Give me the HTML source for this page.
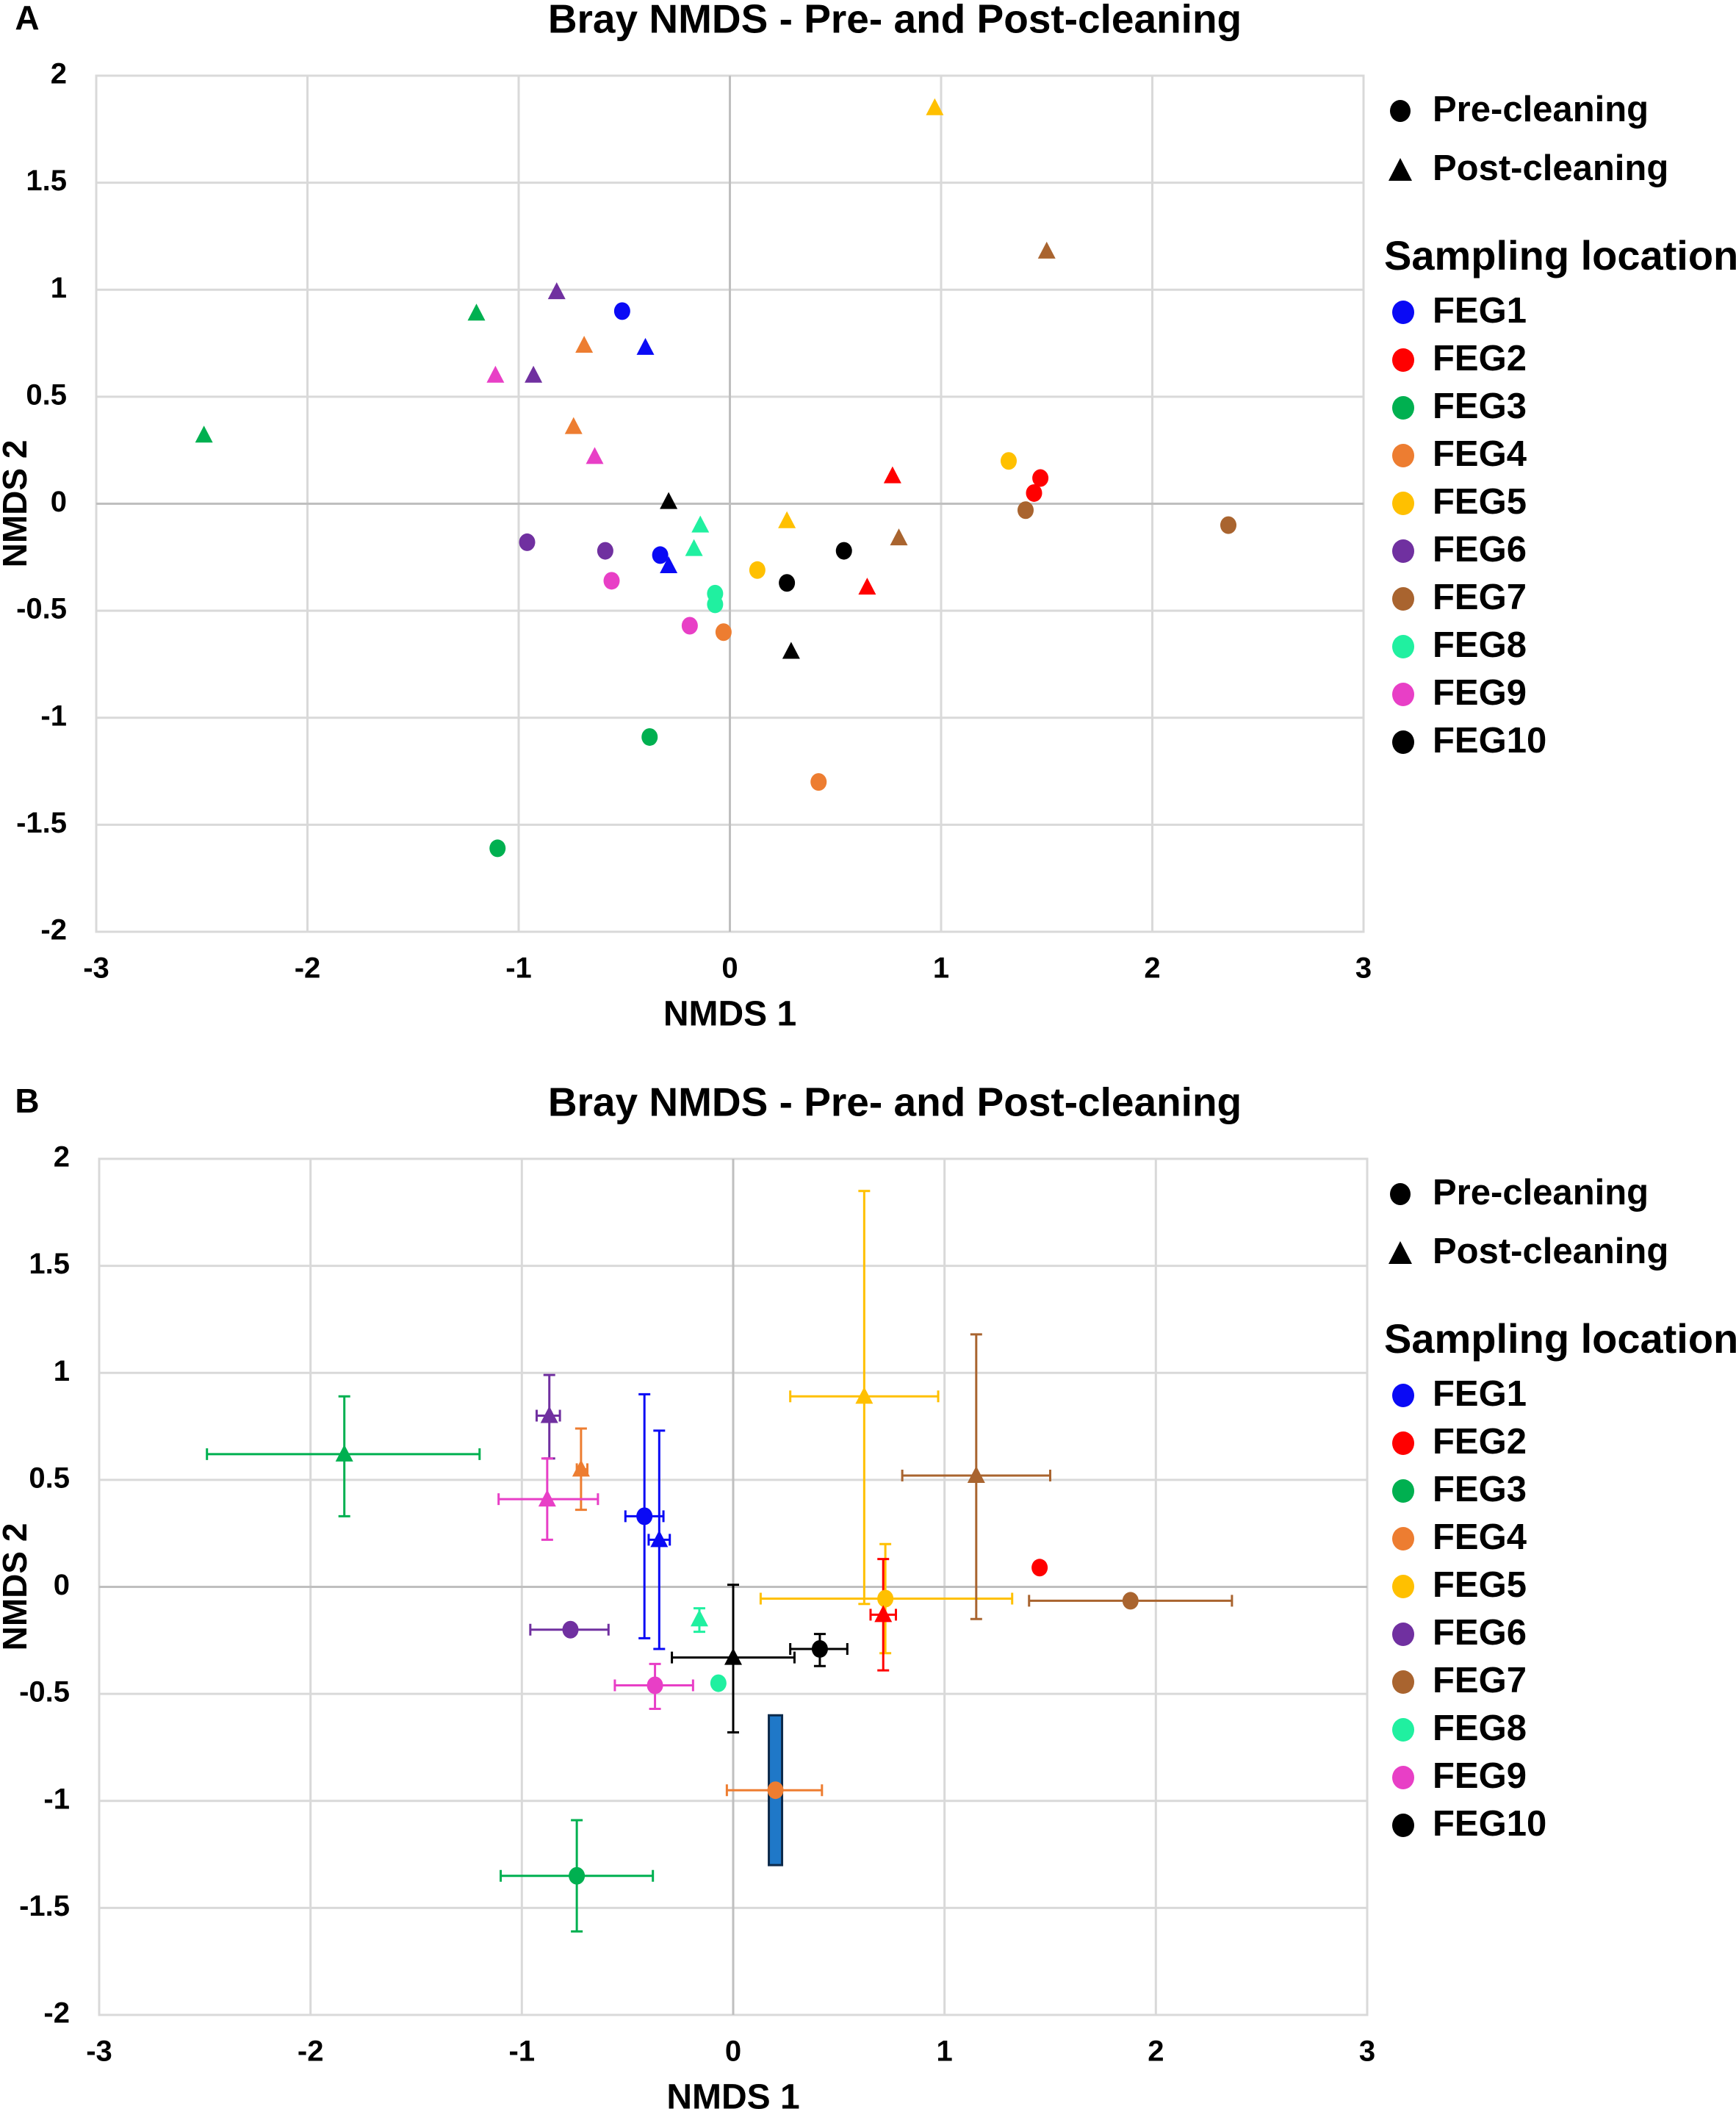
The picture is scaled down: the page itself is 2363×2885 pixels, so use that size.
<!DOCTYPE html>
<html><head><meta charset="utf-8"><style>
html,body{margin:0;padding:0;background:#fff;}
svg{display:block;font-family:"Liberation Sans",Arial,sans-serif;}
</style></head><body>
<svg id="fig" width="2363" height="2885" viewBox="0 0 2363 2885" xmlns="http://www.w3.org/2000/svg"></svg>
<script>
const groups = ["FEG1","FEG2","FEG3","FEG4","FEG5","FEG6","FEG7","FEG8","FEG9","FEG10"];
const colors = ["#0a0af5","#ff0000","#00b050","#ed7d31","#ffc000","#7030a0","#a9642f","#20f0a0","#e83fc6","#000000"];
const xTicks = [-3,-2,-1,0,1,2,3];
const yTicks = [-2,-1.5,-1,-0.5,0,0.5,1,1.5,2];
// Panel A: pre-cleaning points [group, x, y]
const preA = [[0,-0.51,0.9],[0,-0.33,-0.24],[1,1.47,0.12],[1,1.44,0.05],[2,-0.38,-1.09],[2,-1.1,-1.61],
 [3,-0.03,-0.6],[3,0.42,-1.3],[4,1.32,0.2],[4,0.13,-0.31],[5,-0.96,-0.18],[5,-0.59,-0.22],
 [6,1.4,-0.03],[6,2.36,-0.1],[7,-0.07,-0.42],[7,-0.07,-0.47],[8,-0.56,-0.36],[8,-0.19,-0.57],
 [9,0.54,-0.22],[9,0.27,-0.37]];
// Panel A: post-cleaning points
const postA = [[0,-0.4,0.73],[0,-0.29,-0.29],[1,0.77,0.13],[1,0.65,-0.39],[2,-1.2,0.89],[2,-2.49,0.32],
 [3,-0.69,0.74],[3,-0.74,0.36],[4,0.97,1.85],[4,0.27,-0.08],[5,-0.82,0.99],[5,-0.93,0.6],
 [6,1.5,1.18],[6,0.8,-0.16],[7,-0.14,-0.1],[7,-0.17,-0.21],[8,-1.11,0.6],[8,-0.64,0.22],
 [9,-0.29,0.01],[9,0.29,-0.69]];
// Panel B means: [group, x, y, xmin, xmax, ymin, ymax]  (null = no bar)
const preB = [[0,-0.42,0.33,-0.51,-0.33,-0.24,0.9],[1,1.45,0.09,null,null,null,null],
 [2,-0.74,-1.35,-1.1,-0.38,-1.61,-1.09],[3,0.2,-0.95,-0.03,0.42,null,null],
 [4,0.72,-0.055,0.13,1.32,-0.31,0.2],[5,-0.77,-0.2,-0.96,-0.59,null,null],
 [6,1.88,-0.065,1.4,2.36,null,null],[7,-0.07,-0.45,null,null,null,null],
 [8,-0.37,-0.46,-0.56,-0.19,-0.57,-0.36],[9,0.41,-0.29,0.27,0.54,-0.37,-0.22]];
const postB = [[0,-0.35,0.22,-0.4,-0.3,-0.29,0.73],[1,0.71,-0.13,0.65,0.77,-0.39,0.13],
 [2,-1.84,0.62,-2.49,-1.2,0.33,0.89],[3,-0.72,0.55,-0.74,-0.69,0.36,0.74],
 [4,0.62,0.89,0.27,0.97,-0.08,1.85],[5,-0.87,0.8,-0.93,-0.82,0.6,0.99],
 [6,1.15,0.52,0.8,1.5,-0.15,1.18],[7,-0.16,-0.15,null,null,-0.21,-0.1],
 [8,-0.88,0.41,-1.11,-0.64,0.22,0.6],[9,0,-0.33,-0.29,0.29,-0.68,0.01]];
// Odd blue bar in panel B: [x, ymin, ymax]
const barB = [0.2,-1.3,-0.6];

const NS="http://www.w3.org/2000/svg";
const svg=document.getElementById('fig');
function mk(tag,attrs,parent,text){const e=document.createElementNS(NS,tag);for(const k in attrs)e.setAttribute(k,attrs[k]);if(text!==undefined)e.textContent=text;(parent||svg).appendChild(e);return e;}

function panel(label,oy,L,R,T,B,pre,post,isB){
  const g=mk('g',{});
  
  
  const sx=v=>L+(v+3)/6*(R-L), sy=v=>B-(v+2)/4*(B-T);
  let t=mk('text',{x:37,y:oy+28,'font-size':46,'font-weight':'bold','text-anchor':'middle','dominant-baseline':'middle'},g,label);
  
  t=mk('text',{x:1218,y:oy+30,'font-size':55,'font-weight':'bold','text-anchor':'middle','dominant-baseline':'middle'},g,'Bray NMDS - Pre- and Post-cleaning');
  
  mk('rect',{x:L,y:T,width:R-L,height:B-T,fill:'none',stroke:'#d9d9d9','stroke-width':3},g);
  xTicks.forEach(v=>{
    if(v!==0){const l=mk('line',{x1:sx(v),x2:sx(v),y1:T,y2:B,stroke:'#d9d9d9','stroke-width':3},g);}
    const tx=mk('text',{x:sx(v),y:B+52,'font-size':40,'font-weight':'bold','text-anchor':'middle','dominant-baseline':'middle'},g,String(v));
    
  });
  yTicks.forEach(v=>{
    if(v!==0){const l=mk('line',{x1:L,x2:R,y1:sy(v),y2:sy(v),stroke:'#d9d9d9','stroke-width':3},g);}
    const tx=mk('text',{x:L-40,y:sy(v),'font-size':40,'font-weight':'bold','text-anchor':'end','dominant-baseline':'middle'},g,String(v));
    
  });
  let z=mk('line',{x1:sx(0),x2:sx(0),y1:T,y2:B,stroke:'#bfbfbf','stroke-width':3},g);
  z=mk('line',{x1:L,x2:R,y1:sy(0),y2:sy(0),stroke:'#bfbfbf','stroke-width':3},g);
  t=mk('text',{x:(L+R)/2,y:B+115,'font-size':48,'font-weight':'bold','text-anchor':'middle','dominant-baseline':'middle'},g,'NMDS 1');
  
  const cy=(T+B)/2;
  t=mk('text',{x:24,y:cy,'font-size':46,'font-weight':'bold','text-anchor':'middle','dominant-baseline':'middle',transform:`rotate(-90 24 ${cy})`},g,'NMDS 2');
  

  if(isB){
    const r=mk('rect',{x:sx(barB[0])-9,y:sy(barB[2]),width:18,height:sy(barB[1])-sy(barB[2]),fill:'#1f78c8',stroke:'#0d2a4a','stroke-width':3},g);
    
    const eb=(d)=>{const c=colors[d[0]];const px=sx(d[1]),py=sy(d[2]);
      if(d[3]!==null){const a=sx(d[3]),b=sx(d[4]);
        let e=mk('path',{d:`M${a} ${py}H${b}M${a} ${py-8}V${py+8}M${b} ${py-8}V${py+8}`,stroke:c,'stroke-width':3,fill:'none'},g);
        }
      if(d[5]!==null){const a=sy(d[5]),b=sy(d[6]);
        let e=mk('path',{d:`M${px} ${a}V${b}M${px-8} ${a}H${px+8}M${px-8} ${b}H${px+8}`,stroke:c,'stroke-width':3,fill:'none'},g);
        }
    };
    pre.forEach(eb);post.forEach(eb);
  }
  pre.forEach(d=>{const c=mk('ellipse',{cx:sx(d[1]),cy:sy(d[2]),rx:11,ry:12,fill:colors[d[0]]},g);
    });
  post.forEach(d=>{const x=sx(d[1]),y=sy(d[2]);const p=mk('polygon',{points:`${x},${y-13} ${x-12},${y+10} ${x+12},${y+10}`,fill:colors[d[0]]},g);
    });

  // legend
  const lg=mk('g',{},g);
  let c=mk('ellipse',{cx:1906,cy:oy+151,rx:14,ry:15,fill:'#000'},lg);
  t=mk('text',{x:1950,y:oy+152,'font-size':49,'font-weight':'bold','dominant-baseline':'middle'},lg,'Pre-cleaning');
  const ty=oy+232;
  c=mk('polygon',{points:`1906,${ty-17} 1890,${ty+14} 1922,${ty+14}`,fill:'#000'},lg);
  t=mk('text',{x:1950,y:ty,'font-size':49,'font-weight':'bold','dominant-baseline':'middle'},lg,'Post-cleaning');
  t=mk('text',{x:1884,y:oy+352,'font-size':56,'font-weight':'bold','dominant-baseline':'middle'},lg,'Sampling location');
  groups.forEach((n,i)=>{const y=oy+425+i*65;
    const m=mk('ellipse',{cx:1910,cy:y,rx:15,ry:16,fill:colors[i]},lg);
    const tt=mk('text',{x:1950,y:y+1,'font-size':49,'font-weight':'bold','dominant-baseline':'middle'},lg,n);
  });
}
panel('A',0,131,1856,103,1268,preA,postA,false);
panel('B',1474,135,1861,1577,2742,preB,postB,true);
</script>
</body></html>
